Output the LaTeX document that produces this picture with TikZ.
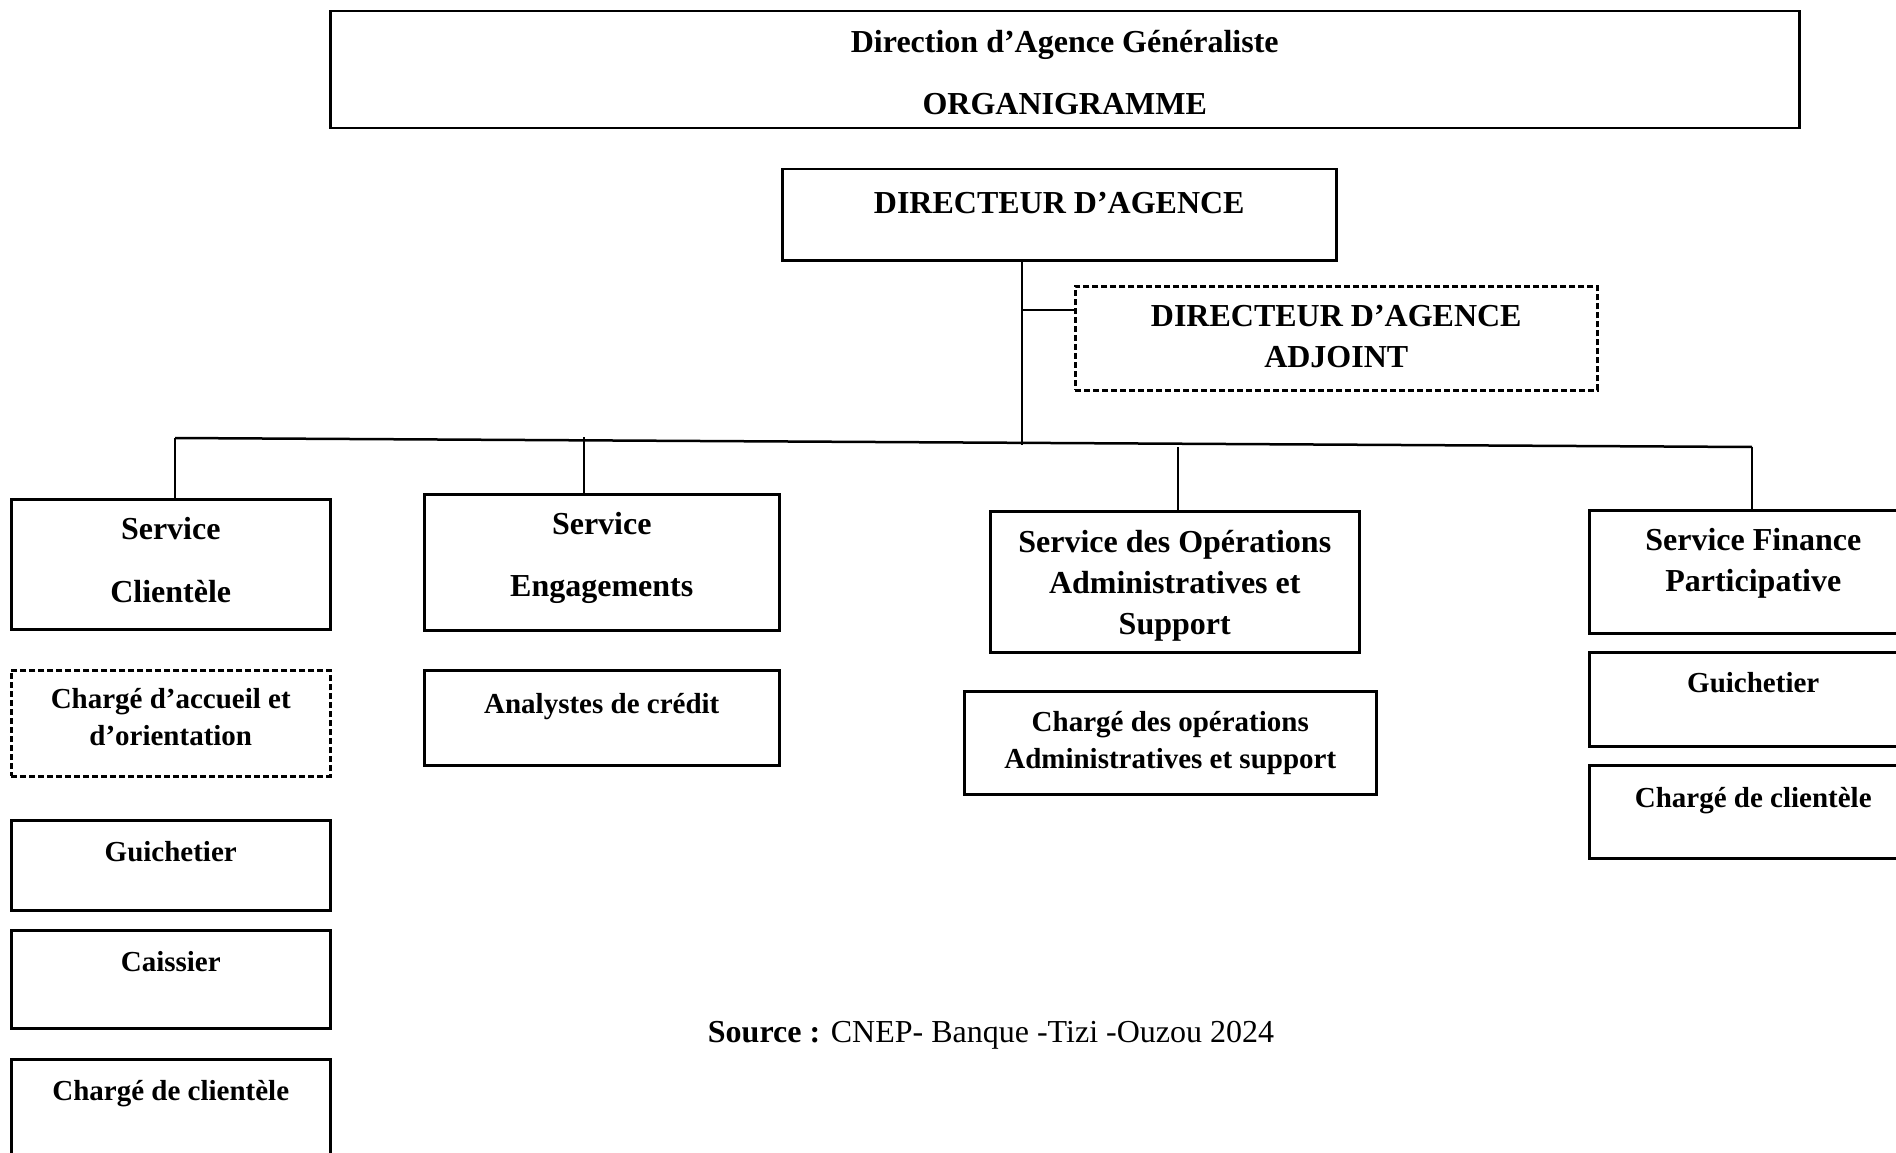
\documentclass[tikz,border=0pt]{standalone}
\usepackage{fontspec}
\setmainfont{Liberation Serif}
\usetikzlibrary{calc}

\tikzset{
  box/.style={draw, inner sep=0pt, anchor=north west, align=center,
    font=\bfseries\fontsize{32}{41}\selectfont},
  jobbox/.style={box, font=\bfseries\fontsize{29}{37}\selectfont},
  dashbox/.style={dash pattern=on 6pt off 3pt},
}

\begin{document}
\begin{tikzpicture}[x=1pt, y=-1pt, line width=2.5pt]
    \useasboundingbox (0,0) rectangle (1896,1153);
    % head
    \node [box, minimum width=1469pt, minimum height=117pt] (title) at (329,10) {\rule{0pt}{27pt}Direction d’Agence Généraliste\\[21pt]ORGANIGRAMME};
    \node [box, minimum width=554pt, text height=44pt, text depth=47pt] (dir) at (781,168) {DIRECTEUR D’AGENCE};
    \node [box, dashbox, minimum width=522pt, minimum height=104pt] (adj) at (1074,285) {DIRECTEUR D’AGENCE\\ADJOINT\rule[-4pt]{0pt}{0pt}};
    % services
    \node [box, minimum width=319pt, minimum height=130pt] (sc) at (10,498) {Service\\[22pt]Clientèle\rule[-8pt]{0pt}{0pt}};
    \node [box, minimum width=355pt, minimum height=136pt] (se) at (423,493) {Service\\[21pt]Engagements\rule[-15pt]{0pt}{0pt}};
    \node [box, minimum width=369pt, minimum height=141pt] (so) at (989,510) {\rule{0pt}{31pt}Service des Opérations\\Administratives et\\Support};
    \node [box, minimum width=328pt, minimum height=123pt] (sf) at (1588,509) {Service Finance\\Participative\rule[-24pt]{0pt}{0pt}};
    % posts
    \node [jobbox, dashbox, minimum width=319pt, minimum height=106pt] (acc) at (10,669) {Chargé d’accueil et\\d’orientation\rule[-12pt]{0pt}{0pt}};
    \node [jobbox, minimum width=319pt, text height=41pt, text depth=49pt] (gui1) at (10,819) {Guichetier};
    \node [jobbox, minimum width=319pt, text height=41pt, text depth=57pt] (cai) at (10,929) {Caissier};
    \node [jobbox, minimum width=319pt, text height=41pt, text depth=62pt] (ccl1) at (10,1058) {Chargé de clientèle};
    \node [jobbox, minimum width=355pt, text height=43pt, text depth=52pt] (ana) at (423,669) {Analystes de crédit};
    \node [jobbox, minimum width=412pt, minimum height=103pt] (cop) at (963,690) {Chargé des opérations\\Administratives et support};
    \node [jobbox, minimum width=328pt, text height=40pt, text depth=54pt] (gui2) at (1588,651) {Guichetier};
    \node [jobbox, minimum width=328pt, text height=42pt, text depth=51pt] (ccl2) at (1588,764) {Chargé de clientèle};
    % links
    \coordinate (trunk) at (1022,445);
    \coordinate (br) at (1022,310);
    \coordinate (busL) at (175,438);
    \coordinate (busR) at (1752,447);
    \coordinate (dse) at (584,437);
    \coordinate (dso) at (1178,447);
    \draw (dir.south -| trunk) -- (trunk);
    \draw (br) -- (br -| adj.west);
    \draw (busL) -- (busR);
    \draw (busL) -- (busL |- sc.north);
    \draw (dse) -- (dse |- se.north);
    \draw (dso) -- (dso |- so.north);
    \draw (busR) -- (busR |- sf.north);
    % source
    \node [font=\fontsize{32}{38}\selectfont] (src) at (991,1035) {\textbf{Source :} CNEP- Banque -Tizi -Ouzou 2024};
\end{tikzpicture}
\end{document}
